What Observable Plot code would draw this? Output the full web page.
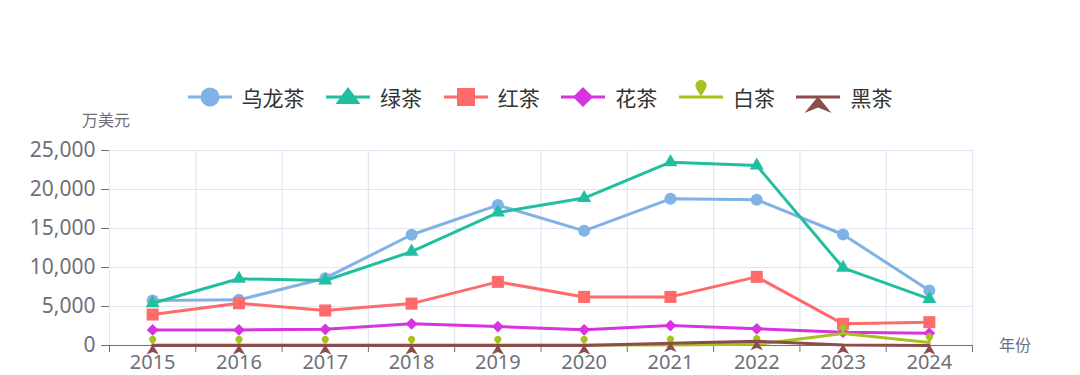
<!DOCTYPE html>
<html>
<head>
<meta charset="utf-8">
<script src="https://cdn.jsdelivr.net/npm/d3@7"></script>
<script src="https://cdn.jsdelivr.net/npm/@observablehq/plot@0.6"></script>
<style>
  body { margin: 0; background: #fff; font-family: "Noto Sans CJK SC", "Noto Sans", sans-serif; }
  #wrap { position: relative; width: 1080px; height: 375px; overflow: hidden; }
  #chart { position: absolute; left: 0; top: 0; }
  #legend { position: absolute; left: 0; top: 84px; width: 1080px; display: flex; justify-content: center; align-items: center; }
  .item { display: flex; align-items: center; margin: 0 10.8px; }
  .item svg { margin-right: 10px; overflow: visible; }
  .item span { font-size: 21px; color: #333; line-height: 26px; }
  .lab { position: absolute; color: #6e7079; font-size: 16px; line-height: 20px; white-space: nowrap; }
</style>
</head>
<body>
<div id="wrap">
  <div id="chart"></div>
  <div id="legend"></div>
  <div class="lab" style="left:82px; top:109px;">万美元</div>
  <div class="lab" style="left:999px; top:334px;">年份</div>
</div>
<script>
// ---- data ----
const years = [2015, 2016, 2017, 2018, 2019, 2020, 2021, 2022, 2023, 2024];
const wulongcha = [5770, 5850, 8630, 14200, 18000, 14700, 18800, 18700, 14230, 7050];
const lvcha     = [5420, 8550, 8330, 12030, 17050, 18900, 23500, 23070, 9960, 5980];
const hongcha   = [3970, 5420, 4490, 5370, 8160, 6230, 6230, 8800, 2780, 2990];
const huacha    = [2000, 2000, 2080, 2780, 2430, 2010, 2560, 2140, 1710, 1580];
const baicha    = [50, 50, 50, 50, 50, 50, 80, 150, 1540, 380];
const heicha    = [0, 0, 0, 0, 0, 0, 300, 550, 50, 0];
const seriesNames = ["乌龙茶", "绿茶", "红茶", "花茶", "白茶", "黑茶"];
const seriesColors = ["#80b2e6", "#20bfa0", "#ff6b6b", "#d733e0", "#a6c21c", "#8c4c4c"];
const yTicks = [0, 5000, 10000, 15000, 20000, 25000];

// ---- custom symbols ----
const pinSymbol = {
  draw(ctx, size) {
    const s = Math.sqrt(size / Math.PI);
    const a = 0.7 * s, c = 1.15 * s;
    const phi = Math.acos(a / c);
    ctx.moveTo(0, 0);
    ctx.lineTo(a * Math.sin(phi), -c + a * Math.cos(phi));
    ctx.arc(0, -c, a, Math.PI / 2 - phi, Math.PI / 2 + phi, true);
    ctx.closePath();
  }
};
const arrowSymbol = {
  draw(ctx, size) {
    const s = Math.sqrt(size / Math.PI);
    const w = 2.2 * s, h = 1.6 * s;
    ctx.moveTo(0, -1);
    ctx.lineTo(w / 2, h);
    ctx.lineTo(0, h * 0.72);
    ctx.lineTo(-w / 2, h);
    ctx.closePath();
  }
};
const symbols = ["circle", "triangle", "square", "diamond2", pinSymbol, arrowSymbol];
const radii = [6, 5.2, 6.8, 5.3, 5, 5.6];
const valuesList = [wulongcha, lvcha, hongcha, huacha, baicha, heicha];

const boundaries = years.map(y => y - 0.5).concat([years[years.length - 1] + 0.5]);

const marks = [
  Plot.gridY(yTicks, {stroke: "#e0e6f1", strokeOpacity: 1, strokeWidth: 1.2}),
  Plot.gridX(boundaries, {stroke: "#e0e6f1", strokeOpacity: 1, strokeWidth: 1.2}),
  Plot.axisY(yTicks, {tickSize: 8, tickPadding: 6, tickFormat: d3.format(","), fontSize: 21, label: null}),
  Plot.ruleY([0], {stroke: "#6e7079", strokeWidth: 1.2}),
  Plot.axisX(boundaries, {tickSize: 7, tickFormat: () => "", label: null}),
  Plot.axisX(years, {tickSize: 0, tickPadding: 9, tickFormat: d => String(d), fontSize: 20, label: null})
];

seriesNames.forEach((name, i) => {
  const rows = years.map((yr, j) => ({year: yr, value: valuesList[i][j]}));
  marks.push(Plot.line(rows, {x: "year", y: "value", stroke: seriesColors[i], strokeWidth: 3}));
  marks.push(Plot.dot(rows, {x: "year", y: "value", fill: seriesColors[i], stroke: "none", symbol: symbols[i], r: radii[i]}));
});

const chart = Plot.plot({
  width: 1080,
  height: 375,
  marginTop: 150,
  marginBottom: 30,
  marginLeft: 109,
  marginRight: 108,
  style: {color: "#6e7079", fontFamily: "'Noto Sans', 'Noto Sans CJK SC', sans-serif", overflow: "visible", background: "transparent"},
  x: {type: "linear", domain: [years[0] - 0.5, years[years.length - 1] + 0.5], axis: null},
  y: {domain: [0, 25000], axis: null},
  marks
});
document.getElementById("chart").appendChild(chart);

// ---- legend ----
const legend = document.getElementById("legend");
const iconPaths = [
  `<circle cx="22" cy="13" r="9.5"/>`,
  `<path d="M22,3 L34.5,20 L9.5,20 Z"/>`,
  `<rect x="13" y="4" width="18" height="18"/>`,
  `<path d="M22,3 L32,13 L22,23 L12,13 Z"/>`,
  `<path d="M22,14 L17.5,6.5 A5.6,5.6 0 1 1 26.5,6.5 Z" transform="translate(0,-1.5)"/>`,
  `<path d="M22,12.5 L35.5,29 L22,23.5 L8.5,29 Z"/>`
];
seriesNames.forEach((name, i) => {
  const item = document.createElement("div");
  item.className = "item";
  item.innerHTML = `<svg width="44" height="26" viewBox="0 0 44 26"><line x1="0" y1="13" x2="44" y2="13" stroke="${seriesColors[i]}" stroke-width="3"/><g fill="${seriesColors[i]}">${iconPaths[i]}</g></svg><span>${name}</span>`;
  legend.appendChild(item);
});
</script>
</body>
</html>
